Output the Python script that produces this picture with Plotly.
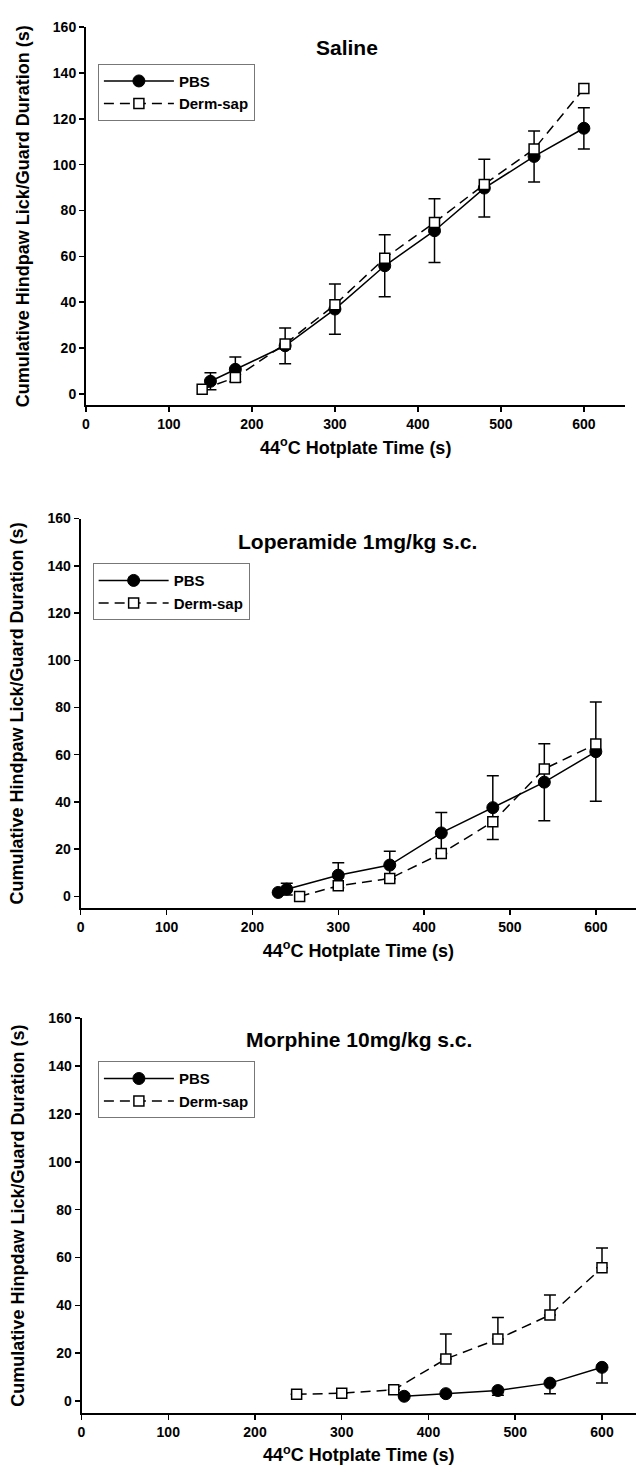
import plotly.graph_objects as go

# ---------------- data ----------------
sal_time_pbs = [150, 180, 240, 300, 360, 420, 480, 540, 600]
sal_pbs = [5.5, 10.7, 21.0, 37.0, 55.9, 71.2, 89.8, 103.6, 115.9]
sal_pbs_err = [3.7, 5.4, 7.8, 11.0, 13.5, 13.9, 12.6, 11.1, 9.0]
sal_time_ds = [140, 180, 240, 300, 360, 420, 480, 540, 600]
sal_ds = [2.0, 7.1, 21.8, 38.9, 59.2, 74.8, 91.4, 106.8, 133.2]

lop_time_pbs = [230, 240, 300, 360, 420, 480, 540, 600]
lop_pbs = [1.7, 3.1, 9.0, 13.3, 26.9, 37.6, 48.4, 61.3]
lop_pbs_err = [0, 2.5, 5.3, 5.8, 8.7, 13.5, 16.3, 21.0]
lop_time_ds = [255, 300, 360, 420, 480, 540, 600]
lop_ds = [0.0, 4.5, 7.6, 18.2, 31.6, 54.0, 64.5]

mor_time_pbs = [372, 420, 480, 540, 600]
mor_pbs = [2.0, 3.1, 4.4, 7.5, 14.1]
mor_pbs_err_minus = [0, 0, 2.0, 4.4, 6.5]
mor_time_ds = [248, 300, 360, 420, 480, 540, 600]
mor_ds = [2.8, 3.3, 4.7, 17.6, 25.9, 36.0, 55.7]
mor_ds_err_plus = [0, 0, 0, 10.4, 9.0, 8.3, 8.3]

titles = ["Saline", "Loperamide 1mg/kg s.c.", "Morphine 10mg/kg s.c."]
ytitles = ["Cumulative Hindpaw Lick/Guard Duration (s)",
           "Cumulative Hindpaw Lick/Guard Duration (s)",
           "Cumulative Hinpdaw Lick/Guard Duration (s)"]
xtitle = "44<sup>o</sup>C Hotplate Time (s)"
series_names = ["PBS", "Derm-sap"]
y_ticks = [0, 20, 40, 60, 80, 100, 120, 140, 160]
x_ticks = [0, 100, 200, 300, 400, 500, 600]

# ---------------- layout geometry ----------------
W, H = 636, 1475
FONT = "Liberation Sans, Arial, Helvetica, sans-serif"

def px_x(p):
    return p / W

def px_y(p):
    return 1 - p / H

panels = [
    dict(xl=82.5, xr=625.3, xmax=650, yt=19.3, yb=399.5,
         title_xy=(344.8, 40), leg=(94.5, 56)),
    dict(xl=77.2, xr=636, xmax=646.8, yt=513.3, yb=905.2,
         title_xy=(356.2, 536.6), leg=(89.2, 558.2)),
    dict(xl=78.0, xr=636, xmax=639.2, yt=1015.7, yb=1412.7,
         title_xy=(357.6, 1036.7), leg=(94.5, 1059)),
]

fig = go.Figure()

line_pbs = dict(color="black", width=1.5)
line_ds = dict(color="black", width=1.5, dash="10px,6px")
mk_pbs = dict(symbol="circle", size=12, color="black", line=dict(color="black", width=1))
mk_ds = dict(symbol="square", size=10, color="white", line=dict(color="black", width=1.5))

def err(arr, minus=None, visible=True):
    d = dict(type="data", array=arr, color="black", thickness=1.5, width=6, visible=visible)
    if minus is not None:
        d["symmetric"] = False
        d["arrayminus"] = minus
    return d

# Panel 1
fig.add_trace(go.Scatter(x=sal_time_pbs, y=sal_pbs, name=series_names[0], mode="lines+markers",
                         line=line_pbs, marker=mk_pbs, error_y=err(sal_pbs_err),
                         xaxis="x", yaxis="y", legend="legend", legendrank=1))
fig.add_trace(go.Scatter(x=sal_time_ds, y=sal_ds, name=series_names[1], mode="lines+markers",
                         line=line_ds, marker=mk_ds,
                         xaxis="x", yaxis="y", legend="legend", legendrank=2))
# Panel 2
fig.add_trace(go.Scatter(x=lop_time_pbs, y=lop_pbs, name=series_names[0], mode="lines+markers",
                         line=line_pbs, marker=mk_pbs, error_y=err(lop_pbs_err),
                         xaxis="x2", yaxis="y2", legend="legend2", legendrank=1))
fig.add_trace(go.Scatter(x=lop_time_ds, y=lop_ds, name=series_names[1], mode="lines+markers",
                         line=line_ds, marker=mk_ds,
                         xaxis="x2", yaxis="y2", legend="legend2", legendrank=2))
# Panel 3
fig.add_trace(go.Scatter(x=mor_time_ds, y=mor_ds, name=series_names[1], mode="lines+markers",
                         line=line_ds, marker=mk_ds,
                         error_y=err(mor_ds_err_plus, minus=[0] * len(mor_ds_err_plus)),
                         xaxis="x3", yaxis="y3", legend="legend3", legendrank=2))
fig.add_trace(go.Scatter(x=mor_time_pbs, y=mor_pbs, name=series_names[0], mode="lines+markers",
                         line=line_pbs, marker=mk_pbs,
                         error_y=err([0] * len(mor_pbs_err_minus), minus=mor_pbs_err_minus),
                         xaxis="x3", yaxis="y3", legend="legend3", legendrank=1))

layout = dict(
    width=W, height=H, margin=dict(l=0, r=0, t=0, b=0),
    paper_bgcolor="white", plot_bgcolor="white",
    font=dict(family=FONT, color="black", size=14, weight="bold"),
    showlegend=True,
    annotations=[],
)

for i, p in enumerate(panels):
    sfx = "" if i == 0 else str(i + 1)
    xa = dict(domain=[px_x(p["xl"]), px_x(p["xr"])], range=[0, p["xmax"]],
              anchor="y" + sfx, showline=True, linecolor="black", linewidth=2,
              ticks="outside", ticklen=5, tickwidth=1.5, tickcolor="black",
              tickvals=x_ticks, showgrid=False, zeroline=False,
              tickfont=dict(family=FONT, size=14, weight="bold"),
              title=dict(text=xtitle, font=dict(family=FONT, size=18, weight="bold"), standoff=10))
    ya = dict(domain=[px_y(p["yb"]), px_y(p["yt"])], range=[-5, 160],
              anchor="x" + sfx, showline=True, linecolor="black", linewidth=2,
              ticks="outside", ticklen=5, tickwidth=1.5, tickcolor="black",
              tickvals=y_ticks, showgrid=False, zeroline=False,
              tickfont=dict(family=FONT, size=14, weight="bold"),
              title=dict(text=ytitles[i], font=dict(family=FONT, size=18, weight="bold"), standoff=19))
    layout["xaxis" + sfx] = xa
    layout["yaxis" + sfx] = ya
    layout["legend" + sfx] = dict(
        x=px_x(p["leg"][0]), y=px_y(p["leg"][1]), xanchor="left", yanchor="top",
        bgcolor="white", bordercolor="#777777", borderwidth=1,
        font=dict(family=FONT, size=15, weight="bold"),
        itemwidth=70, tracegroupgap=2, traceorder="normal",
    )
    layout["annotations"].append(dict(
        text=titles[i], x=px_x(p["title_xy"][0]), y=px_y(p["title_xy"][1]),
        xref="paper", yref="paper", xanchor="center", yanchor="middle",
        showarrow=False, font=dict(family=FONT, size=21, weight="bold")))

fig.update_layout(**layout)
fig.write_html(
    "out.html",
    config={"displayModeBar": False, "staticPlot": True},
    post_script="document.body.style.margin='0';document.body.style.overflow='hidden';",
)
